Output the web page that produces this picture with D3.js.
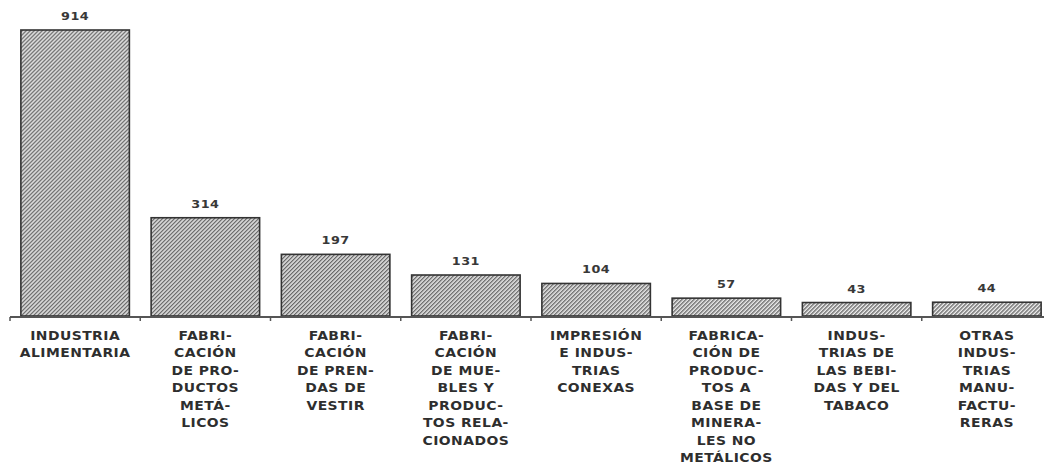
<!DOCTYPE html>
<html>
<head>
<meta charset="utf-8">
<script src="https://cdn.jsdelivr.net/npm/d3@7"></script>
<style>
  html, body { margin: 0; padding: 0; background: #fff; }
  svg { display: block; }
  .cat { font-family: "DejaVu Sans", sans-serif; font-weight: bold; font-size: 12px; fill: #2e2e2e; letter-spacing: 0.4px; }
  .val { font-family: "DejaVu Sans", sans-serif; font-weight: bold; font-size: 11px; fill: #383838; letter-spacing: 0.4px; }
</style>
</head>
<body>
<svg id="chart" width="1044" height="469"></svg>
<script>
// Establecimientos por rama de la industria manufacturera
const categories = [
  ["INDUSTRIA", "ALIMENTARIA"],
  ["FABRI-", "CACIÓN", "DE PRO-", "DUCTOS", "METÁ-", "LICOS"],
  ["FABRI-", "CACIÓN", "DE PREN-", "DAS DE", "VESTIR"],
  ["FABRI-", "CACIÓN", "DE MUE-", "BLES Y", "PRODUC-", "TOS RELA-", "CIONADOS"],
  ["IMPRESIÓN", "E INDUS-", "TRIAS", "CONEXAS"],
  ["FABRICA-", "CIÓN DE", "PRODUC-", "TOS A", "BASE DE", "MINERA-", "LES NO", "METÁLICOS"],
  ["INDUS-", "TRIAS DE", "LAS BEBI-", "DAS Y DEL", "TABACO"],
  ["OTRAS", "INDUS-", "TRIAS", "MANU-", "FACTU-", "RERAS"]
];
const values = [914, 314, 197, 131, 104, 57, 43, 44];

const svg = d3.select("#chart");
const x0 = 10, x1 = 1052, yBase = 316;
const ids = d3.range(categories.length);
const stretch = 1.16; // extended lettering

const x = d3.scaleBand()
  .domain(ids)
  .range([x0, x1])
  .paddingInner(0.167)
  .paddingOuter(0.0835);

const y = d3.scaleLinear()
  .domain([0, 914])
  .range([yBase, 30]);

// fine diagonal hatch fill
const defs = svg.append("defs");
const pat = defs.append("pattern")
  .attr("id", "hatch")
  .attr("patternUnits", "userSpaceOnUse")
  .attr("width", 2.83).attr("height", 4)
  .attr("patternTransform", "rotate(45)");
pat.append("rect").attr("width", 2.83).attr("height", 4).attr("fill", "#ececec");
pat.append("rect").attr("width", 1.35).attr("height", 4).attr("fill", "#6a6a6a");

// bars
svg.append("g").selectAll("rect")
  .data(values)
  .join("rect")
  .attr("x", (d, i) => x(i))
  .attr("y", d => y(d))
  .attr("width", x.bandwidth())
  .attr("height", d => yBase - y(d))
  .attr("fill", "url(#hatch)")
  .attr("stroke", "#333")
  .attr("stroke-width", 1.6);

// value labels
svg.append("g").selectAll("text")
  .data(values)
  .join("text")
  .attr("class", "val")
  .attr("text-anchor", "middle")
  .attr("transform", (d, i) => `translate(${x(i) + x.bandwidth() / 2},${y(d) - 10}) scale(${stretch},1)`)
  .text(d => d);

// baseline axis with ticks at band boundaries
const axis = svg.append("g");
axis.append("line")
  .attr("x1", x0).attr("x2", 1044)
  .attr("y1", yBase + 1).attr("y2", yBase + 1)
  .attr("stroke", "#555").attr("stroke-width", 2);
axis.selectAll("line.tick")
  .data(ids)
  .join("line")
  .attr("class", "tick")
  .attr("x1", i => x(i) - x.step() * x.paddingInner() / 2)
  .attr("x2", i => x(i) - x.step() * x.paddingInner() / 2)
  .attr("y1", yBase + 1).attr("y2", yBase + 5)
  .attr("stroke", "#555").attr("stroke-width", 1.5);

// category labels
const lineH = 17.5;
svg.append("g").selectAll("text")
  .data(categories)
  .join("text")
  .attr("class", "cat")
  .attr("text-anchor", "middle")
  .attr("transform", (d, i) => `translate(${x(i) + x.bandwidth() / 2},${yBase + 24}) scale(${stretch},1)`)
  .selectAll("tspan")
  .data(d => d)
  .join("tspan")
  .attr("x", 0)
  .attr("y", (d, j) => j * lineH)
  .text(d => d);
</script>
</body>
</html>
